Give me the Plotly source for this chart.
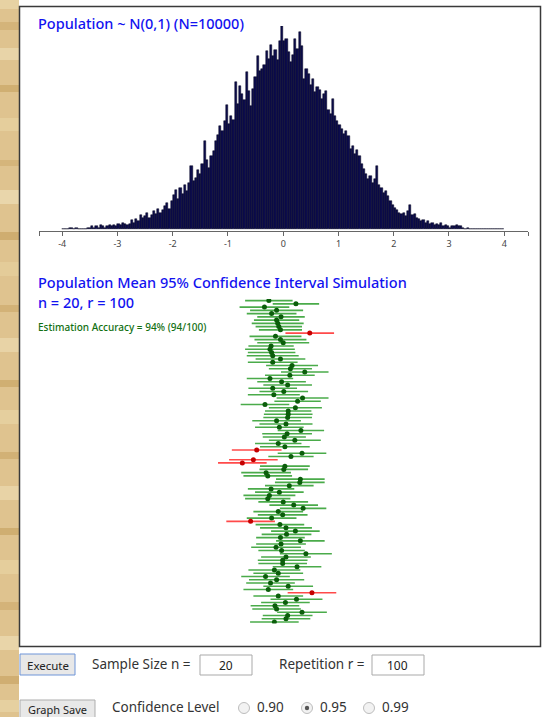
import plotly.graph_objects as go

# ---------------------------------------------------------------
# Population histogram: N(0,1), 10000 draws, bins of width 0.04
# ---------------------------------------------------------------
POP_SIZE = 10000
BIN_START = -4.0
BIN_WIDTH = 0.04
POP_COUNTS = [
    0, 0, 0, 1, 1, 0, 1, 0, 0, 0,              # -4.0 .. -3.6
    0, 1, 1, 2, 1, 2, 1, 3, 2, 1,              # -3.6 .. -3.2
    2, 3, 2, 3, 2, 4, 3, 5, 4, 3,              # -3.2 .. -2.8
    4, 7, 5, 8, 6, 11, 9, 10, 13, 9,           # -2.8 .. -2.4
    11, 14, 12, 16, 13, 15, 18, 21, 16, 22,    # -2.4 .. -2.0
    27, 31, 24, 33, 28, 35, 30, 37, 50, 38,    # -2.0 .. -1.6
    41, 47, 44, 52, 70, 55, 49, 58, 62, 70,    # -1.6 .. -1.2
    75, 82, 78, 86, 99, 84, 90, 87, 117, 100,  # -1.2 .. -0.8
    114, 108, 103, 125, 110, 98, 112, 121, 138, 126,  # -0.8 .. -0.4
    128, 131, 142, 136, 147, 138, 143, 135, 150, 162,  # -0.4 .. 0.0
    150, 152, 141, 133, 139, 152, 144, 157, 146, 120,  # 0.0 .. 0.4
    128, 124, 115, 120, 109, 113, 111, 104, 108, 110,  # 0.4 .. 0.8
    95, 92, 104, 90, 86, 83, 80, 76, 78, 74,   # 0.8 .. 1.2
    64, 66, 60, 63, 58, 52, 48, 44, 40, 42,    # 1.2 .. 1.6
    37, 40, 50, 35, 33, 29, 30, 26, 22, 19,    # 1.6 .. 2.0
    17, 15, 13, 12, 13, 10, 14, 19, 11, 12,    # 2.0 .. 2.4
    9, 8, 6, 7, 5, 6, 4, 5, 3, 4,              # 2.4 .. 2.8
    3, 5, 2, 3, 2, 1, 2, 2, 3, 2,              # 2.8 .. 3.2
    2, 1, 0, 1, 0, 0, 0, 0, 0, 0,              # 3.2 .. 3.6
    0, 0, 0, 0, 0, 0, 0, 0, 0, 0,              # 3.6 .. 4.0
]
AXIS_TICKS = [-4, -3, -2, -1, 0, 1, 2, 3, 4]
AXIS_RANGE = [-4.42, 4.43]

# ---------------------------------------------------------------
# Confidence-interval simulation: n = 20, r = 100 repetitions
# ---------------------------------------------------------------
SAMPLE_SIZE = 20
CONF_LEVEL = 0.95
SAMPLE_MEANS = [
    -0.26, 0.23, -0.34, -0.12, -0.21, -0.04, -0.12, -0.10, -0.08, -0.05,
    0.48, -0.14, -0.05, 0.00, -0.22, -0.24, -0.21, -0.19, -0.05, -0.19,
    0.16, 0.13, 0.39, 0.12, -0.24, -0.03, 0.08, -0.19, 0.01, -0.17,
    0.35, 0.26, -0.33, 0.22, 0.09, 0.09, 0.08, -0.12, 0.05, -0.07,
    0.32, 0.07, 0.02, 0.21, -0.09, 0.03, -0.48, 0.34, 0.14, -0.54,
    -0.74, 0.03, 0.01, -0.31, -0.28, 0.31, 0.30, 0.11, -0.22, -0.07,
    -0.25, -0.28, 0.00, 0.19, 0.36, -0.09, -0.01, -0.21, -0.59, -0.06,
    0.05, 0.22, 0.06, -0.05, 0.31, -0.04, -0.13, -0.03, 0.41, 0.05,
    -0.01, -0.01, 0.25, -0.16, -0.09, -0.32, -0.12, -0.23, 0.09, -0.27,
    0.52, -0.09, 0.24, 0.04, -0.15, -0.12, 0.34, 0.08, 0.05, -0.16,
]
MARGINS = [
    0.43, 0.42, 0.45, 0.48, 0.45, 0.43, 0.41, 0.47, 0.42, 0.39,
    0.44, 0.47, 0.47, 0.47, 0.41, 0.45, 0.43, 0.47, 0.45, 0.45,
    0.47, 0.39, 0.43, 0.45, 0.42, 0.44, 0.44, 0.44, 0.44, 0.47,
    0.47, 0.42, 0.44, 0.48, 0.42, 0.44, 0.44, 0.44, 0.48, 0.44,
    0.42, 0.45, 0.39, 0.47, 0.42, 0.45, 0.45, 0.44, 0.41, 0.44,
    0.44, 0.45, 0.44, 0.45, 0.44, 0.44, 0.45, 0.44, 0.42, 0.44,
    0.47, 0.41, 0.45, 0.44, 0.42, 0.45, 0.45, 0.45, 0.44, 0.44,
    0.47, 0.44, 0.45, 0.44, 0.44, 0.45, 0.45, 0.42, 0.47, 0.45,
    0.45, 0.44, 0.44, 0.47, 0.45, 0.44, 0.50, 0.44, 0.45, 0.45,
    0.44, 0.45, 0.47, 0.44, 0.44, 0.44, 0.45, 0.45, 0.44, 0.44,
]
POP_MEAN = 0.0

# ---------------------------------------------------------------
# Page geometry helpers (pixel -> paper coordinates)
# ---------------------------------------------------------------
W, H = 548, 717


def px(x):
    return x / W


def py(y):
    return 1 - y / H


FONT = "Noto Sans"
TITLE_BLUE = "#1212f0"

centers = [BIN_START + BIN_WIDTH * (i + 0.5) for i in range(len(POP_COUNTS))]
reps = len(SAMPLE_MEANS)
rows = list(range(1, reps + 1))
lowers = [m - e for m, e in zip(SAMPLE_MEANS, MARGINS)]
uppers = [m + e for m, e in zip(SAMPLE_MEANS, MARGINS)]
covers = [lo <= POP_MEAN <= hi for lo, hi in zip(lowers, uppers)]
hits = sum(covers)

fig = go.Figure()

# histogram bars
fig.add_trace(go.Bar(
    x=centers, y=POP_COUNTS, width=BIN_WIDTH,
    marker=dict(color="#0c0c4c", line=dict(color="#03031f", width=0.5)),
    xaxis="x", yaxis="y", hoverinfo="skip",
))

# interval segments, green when they cover the mean, red otherwise
for ok, lcol in ((True, "#4aab4a"), (False, "#ff4a4a")):
    xs, ys = [], []
    for r, lo, hi, c in zip(rows, lowers, uppers, covers):
        if c == ok:
            xs += [lo, hi, None]
            ys += [r, r, None]
    fig.add_trace(go.Scatter(
        x=xs, y=ys, mode="lines", line=dict(color=lcol, width=1.6),
        xaxis="x2", yaxis="y2", hoverinfo="skip",
    ))

fig.add_trace(go.Scatter(
    x=SAMPLE_MEANS, y=rows, mode="markers",
    marker=dict(size=5, color=["#0b5e0b" if c else "#c40000" for c in covers],
                line=dict(width=0)),
    xaxis="x2", yaxis="y2", hoverinfo="skip",
))

# ---------------------------------------------------------------
# Decorations: parchment strip, chart frame, form controls
# ---------------------------------------------------------------
shapes = []
shapes.append(dict(type="rect", xref="paper", yref="paper", x0=px(0), x1=px(19),
                   y0=py(717), y1=py(0), fillcolor="#dfc38f", line=dict(width=0),
                   layer="below"))
bands = [(0, 9, "#e7d2a3"), (22, 30, "#d4b47a"), (48, 60, "#e8d4a8"),
         (85, 92, "#d0af72"), (118, 131, "#e5ce9c"), (160, 166, "#d5b57b"),
         (190, 204, "#e9d6ab"), (232, 240, "#cfad70"), (262, 276, "#e4cc99"),
         (305, 312, "#d3b277"), (338, 352, "#e8d3a6"), (380, 387, "#d0af72"),
         (410, 424, "#e5cf9e"), (452, 459, "#d2b176"), (486, 500, "#e8d3a6"),
         (528, 535, "#cfae71"), (560, 574, "#e5ce9c"), (602, 610, "#d4b379"),
         (636, 650, "#e9d5a9"), (676, 684, "#d0ae72"), (700, 712, "#e6d0a0")]
for y0, y1, c in bands:
    shapes.append(dict(type="rect", xref="paper", yref="paper", x0=px(0), x1=px(19),
                       y0=py(y1), y1=py(y0), fillcolor=c, line=dict(width=0),
                       layer="below"))

shapes.append(dict(type="rect", xref="paper", yref="paper", x0=px(19.5), x1=px(540.5),
                   y0=py(646.5), y1=py(6.5), fillcolor="white",
                   line=dict(color="#3a3a3a", width=1.5), layer="below"))

# buttons
for x0, x1, y0, y1, edge in ((20, 75, 654, 675, "#6f95d8"), (20, 95, 700, 720, "#adadad")):
    shapes.append(dict(type="rect", xref="paper", yref="paper", x0=px(x0), x1=px(x1),
                       y0=py(y1), y1=py(y0), fillcolor="#e8e8e8",
                       line=dict(color=edge, width=1)))
# text inputs
for x0, x1 in ((200, 252), (372, 424)):
    shapes.append(dict(type="rect", xref="paper", yref="paper", x0=px(x0), x1=px(x1),
                       y0=py(675), y1=py(655), fillcolor="white",
                       line=dict(color="#a9a9a9", width=1)))
# radio buttons
RADIO_Y = 708
for cx in (244, 307, 369):
    shapes.append(dict(type="circle", xref="paper", yref="paper",
                       x0=px(cx - 5.5), x1=px(cx + 5.5), y0=py(RADIO_Y + 5.5), y1=py(RADIO_Y - 5.5),
                       fillcolor="#f2f2f2", line=dict(color="#bdbdbd", width=1)))
shapes.append(dict(type="circle", xref="paper", yref="paper",
                   x0=px(307 - 2.2), x1=px(307 + 2.2), y0=py(RADIO_Y + 2.2), y1=py(RADIO_Y - 2.2),
                   fillcolor="#555555", line=dict(width=0)))

ann = []


def text(x, y, s, size, color, anchor="left", weight=400, family=FONT):
    ann.append(dict(x=px(x), y=py(y), xref="paper", yref="paper", text=s,
                    showarrow=False, xanchor=anchor, yanchor="middle",
                    borderpad=0,
                    font=dict(family=family, size=size, color=color, weight=weight)))


text(37, 23, f"Population ~ N(0,1) (N={POP_SIZE})", 14.5, TITLE_BLUE, weight=500)
text(37, 282, f"Population Mean {round(CONF_LEVEL * 100)}% Confidence Interval Simulation",
     14.5, TITLE_BLUE, weight=500)
text(37, 302, f"n = {SAMPLE_SIZE}, r = {reps}", 14.5, TITLE_BLUE, weight=500)
text(37, 327, f"Estimation Accuracy = {round(100 * hits / reps)}% ({hits}/{reps})",
     10, "#127012", weight=500)

text(47.5, 665, "Execute", 11.5, "#222222", "center")
text(91, 664, "Sample Size n =", 13.5, "#333333")
text(226, 665, str(SAMPLE_SIZE), 12, "#222222", "center")
text(278, 664, "Repetition r =", 13.5, "#333333")
text(398, 665, str(reps), 12, "#222222", "center")
text(57.5, 709, "Graph Save", 11, "#222222", "center")
text(111, 707, "Confidence Level", 13.5, "#333333")
for cx, lab in ((256, "0.90"), (319, "0.95"), (381, "0.99")):
    text(cx, 707, lab, 13.5, "#333333")

fig.update_layout(
    width=W, height=H, margin=dict(l=0, r=0, t=0, b=0),
    paper_bgcolor="white", plot_bgcolor="rgba(0,0,0,0)",
    showlegend=False, bargap=0,
    xaxis=dict(domain=[px(39), px(528)], range=AXIS_RANGE, anchor="y",
               tickvals=[AXIS_RANGE[0]] + AXIS_TICKS + [AXIS_RANGE[1]],
               ticktext=[""] + [str(t) for t in AXIS_TICKS] + [""],
               ticks="outside", ticklen=4, tickcolor="#666666", tickwidth=1,
               showline=True, linecolor="#666666", linewidth=1,
               showgrid=False, zeroline=False,
               tickfont=dict(family=FONT, size=9, color="#444444")),
    yaxis=dict(domain=[py(231), py(26)], range=[-1.6, max(POP_COUNTS)],
               visible=False, anchor="x"),
    xaxis2=dict(domain=[px(39), px(528)], range=AXIS_RANGE, anchor="y2", visible=False),
    yaxis2=dict(domain=[py(623.6), py(299)], range=[reps + 0.5, 0.5],
                visible=False, anchor="x2"),
    shapes=shapes, annotations=ann,
)

fig.write_html("out.html")
